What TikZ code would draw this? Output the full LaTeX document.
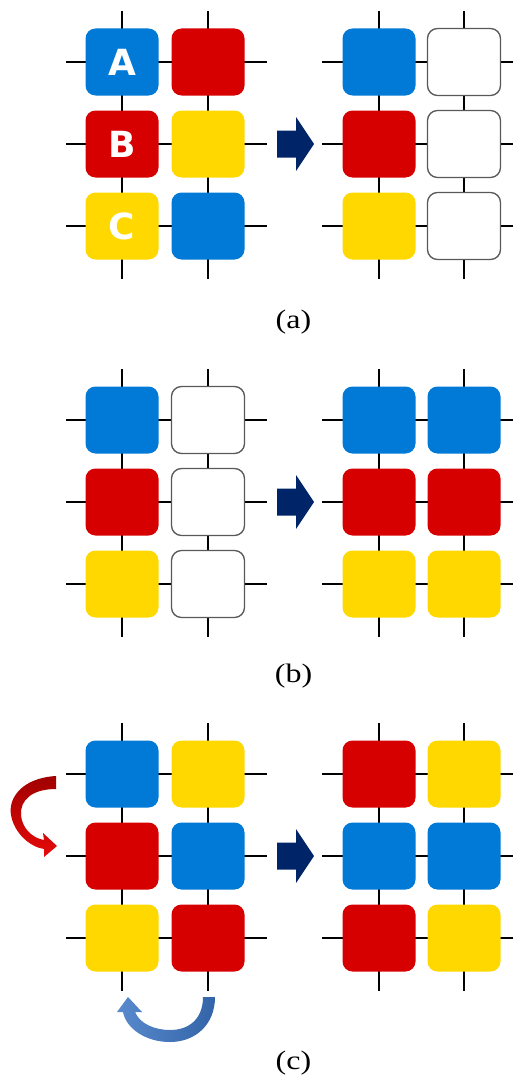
\documentclass[tikz,border=0pt]{standalone}
\usepackage{fontspec}
\setmainfont{Liberation Serif}
\newfontfamily\boxfont{DejaVu Sans}
\definecolor{cblue}{RGB}{0,122,214}
\definecolor{cred}{RGB}{214,0,0}
\definecolor{cyellow}{RGB}{255,216,0}
\definecolor{navy}{RGB}{0,36,104}
\definecolor{darkred}{RGB}{160,0,0}
\definecolor{brightred}{RGB}{230,10,10}
\definecolor{lightblue}{RGB}{88,138,205}
\definecolor{midblue}{RGB}{52,100,168}
\begin{document}
\begin{tikzpicture}[x=0.75pt,y=-0.75pt,
  wire/.style={line width=1.5pt,black},
  cell/.style={rectangle,rounded corners=7.5pt,minimum width=54.75pt,minimum height=50.25pt,inner sep=0pt},
  bluecell/.style={cell,fill=cblue},
  redcell/.style={cell,fill=cred},
  yellowcell/.style={cell,fill=cyellow},
  emptycell/.style={cell,fill=white,draw=black!65,line width=1pt},
  letter/.style={text=white,font=\boxfont\bfseries\fontsize{27}{29}\selectfont,inner sep=0pt},
  caption/.style={font=\fontsize{20}{24}\selectfont,inner sep=0pt},
  bigarrow/.pic={\fill[navy] (-18.5,-13.5) -- (0.5,-13.5) -- (0.5,-27) -- (18.5,0) -- (0.5,27) -- (0.5,13.5) -- (-18.5,13.5) -- cycle;}
]
\useasboundingbox (0,0) rectangle (513,1081);
% grid lines
\foreach \yo in {62,420,774}{
  \foreach \r in {0,82,164}{
    \draw[wire] (66,\yo+\r) -- (267,\yo+\r);
    \draw[wire] (322,\yo+\r) -- (513,\yo+\r);
  }
  \foreach \cx in {122,208,379,464}{
    \draw[wire] (\cx,\yo-51) -- (\cx,\yo+217);
  }
}
% (a)
\node[bluecell] (a11) at (122,62) {};
\node[redcell] (a12) at (208,62) {};
\node[redcell] (a21) at (122,144) {};
\node[yellowcell] (a22) at (208,144) {};
\node[yellowcell] (a31) at (122,226) {};
\node[bluecell] (a32) at (208,226) {};
\node[letter] (la) at (a11) {A};
\node[letter] (lb) at (a21) {B};
\node[letter] (lc) at (a31) {C};
\pic at (295.5,144) {bigarrow};
\node[bluecell] (a13) at (379,62) {};
\node[emptycell] (a14) at (464,62) {};
\node[redcell] (a23) at (379,144) {};
\node[emptycell] (a24) at (464,144) {};
\node[yellowcell] (a33) at (379,226) {};
\node[emptycell] (a34) at (464,226) {};
\node[caption] (capa) at (293.5,322) {\scalebox{1.2}[1]{(a)}};
% (b)
\node[bluecell] (b11) at (122,420) {};
\node[emptycell] (b12) at (208,420) {};
\node[redcell] (b21) at (122,502) {};
\node[emptycell] (b22) at (208,502) {};
\node[yellowcell] (b31) at (122,584) {};
\node[emptycell] (b32) at (208,584) {};
\pic at (295.5,502) {bigarrow};
\node[bluecell] (b13) at (379,420) {};
\node[bluecell] (b14) at (464,420) {};
\node[redcell] (b23) at (379,502) {};
\node[redcell] (b24) at (464,502) {};
\node[yellowcell] (b33) at (379,584) {};
\node[yellowcell] (b34) at (464,584) {};
\node[caption] (capb) at (293.5,676) {\scalebox{1.2}[1]{(b)}};
% (c)
\node[bluecell] (c11) at (122,774) {};
\node[yellowcell] (c12) at (208,774) {};
\node[redcell] (c21) at (122,856) {};
\node[bluecell] (c22) at (208,856) {};
\node[yellowcell] (c31) at (122,938) {};
\node[redcell] (c32) at (208,938) {};
\pic at (295.5,856) {bigarrow};
\node[redcell] (c13) at (379,774) {};
\node[yellowcell] (c14) at (464,774) {};
\node[bluecell] (c23) at (379,856) {};
\node[bluecell] (c24) at (464,856) {};
\node[redcell] (c33) at (379,938) {};
\node[yellowcell] (c34) at (464,938) {};
\node[caption] (capc) at (293.5,1063) {\scalebox{1.2}[1]{(c)}};
% curved red arrow
\shade[top color=darkred,bottom color=brightred]
  (56,776) .. controls (22,778) and (8,798) .. (11,815)
  .. controls (14,833) and (30,847) .. (44,849)
  -- (44,857) -- (57,846) -- (43,833) -- (44,840)
  .. controls (32,838) and (22,828) .. (21,815)
  .. controls (20,800) and (32,789) .. (56,789) -- cycle;
% curved blue arrow
\shade[left color=lightblue,right color=midblue]
  (215,997) .. controls (215,1025) and (195,1042) .. (170,1042)
  .. controls (145,1042) and (126,1028) .. (123,1012)
  -- (117,1012) -- (128,997) -- (142,1012) -- (135,1012)
  .. controls (140,1024) and (155,1030) .. (170,1030)
  .. controls (190,1030) and (203,1018) .. (203,997) -- cycle;
\end{tikzpicture}
\end{document}
